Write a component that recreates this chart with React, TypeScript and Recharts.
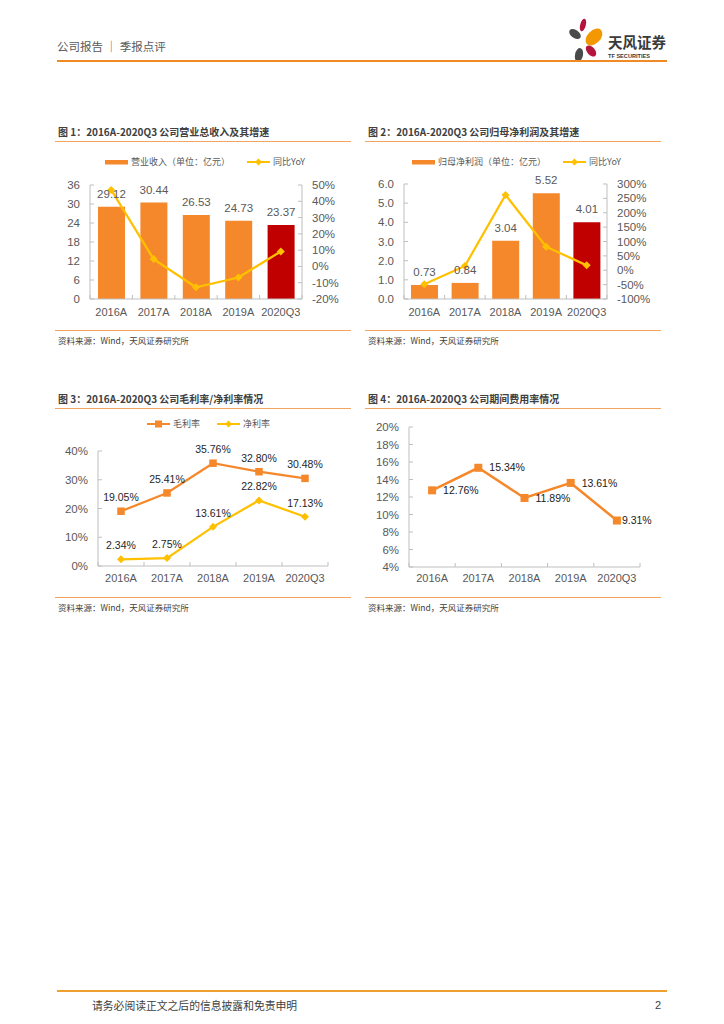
import React from "react";
import { ComposedChart, Bar, Line, XAxis, YAxis, Cell, LabelList, Legend } from "recharts";

const categories = ["2016A", "2017A", "2018A", "2019A", "2020Q3"];
const revenue = [29.12, 30.44, 26.53, 24.73, 23.37];
const revenueYoY = [47, 4.5, -12.8, -6.8, 9.2];
const netProfit = [0.73, 0.84, 3.04, 5.52, 4.01];
const netProfitYoY = [-49, 15, 262, 82, 17];
const grossMargin = [19.05, 25.41, 35.76, 32.8, 30.48];
const netMargin = [2.34, 2.75, 13.61, 22.82, 17.13];
const expenseRatio = [12.76, 15.34, 11.89, 13.61, 9.31];

const revenueTicks = [0, 6, 12, 18, 24, 30, 36];
const revenueYoYTicks = [-20, -10, 0, 10, 20, 30, 40, 50];
const profitTicks = [0, 1, 2, 3, 4, 5, 6];
const profitYoYTicks = [-100, -50, 0, 50, 100, 150, 200, 250, 300];
const marginTicks = [0, 10, 20, 30, 40];
const expenseTicks = [4, 6, 8, 10, 12, 14, 16, 18, 20];

const ORANGE = "#F5882A";
const DARK_RED = "#C00000";
const YELLOW = "#FFC000";
const AXIS = "#BFBFBF";
const GRAY_TEXT = "#595959";
const NUM_FONT = '"Liberation Sans", Arial, sans-serif';
const CJK_FONT = '"Noto Sans CJK SC", "Liberation Sans", sans-serif';

const revenueRows = categories.map((name, i) => ({ name, value: revenue[i], yoy: revenueYoY[i] }));
const profitRows = categories.map((name, i) => ({ name, value: netProfit[i], yoy: netProfitYoY[i] }));
const marginRows = categories.map((name, i) => ({ name, gross: grossMargin[i], net: netMargin[i] }));
const expenseRows = categories.map((name, i) => ({ name, ratio: expenseRatio[i] }));

// category labels with Excel-style tick marks between categories
function CategoryTick(props: any) {
  const { x, y, payload, index, visibleTicksCount, dy } = props;
  const half = payload && payload.offset ? payload.offset : 0;
  return (
    <g>
      <line x1={x - half} x2={x - half} y1={y} y2={y - 4} stroke={AXIS} />
      {index === visibleTicksCount - 1 && <line x1={x + half} x2={x + half} y1={y} y2={y - 4} stroke={AXIS} />}
      <text x={x} y={y + dy} textAnchor="middle" fill={GRAY_TEXT} fontSize={11} fontFamily={NUM_FONT}>
        {payload.value}
      </text>
    </g>
  );
}

// value labels, tick marks pointing into the plot
function ValueTick(props: any) {
  const { x, y, payload, side, fmt } = props;
  const axisX = side === "left" ? x + 10 : x - 10;
  const inner = side === "left" ? axisX + 4 : axisX - 4;
  return (
    <g>
      <line x1={axisX} x2={inner} y1={y} y2={y} stroke={AXIS} />
      <text
        x={x}
        y={y}
        dy="0.35em"
        textAnchor={side === "left" ? "end" : "start"}
        fill={GRAY_TEXT}
        fontSize={11.5}
        fontFamily={NUM_FONT}
      >
        {fmt(payload.value)}
      </text>
    </g>
  );
}

const pct = (v: number) => `${v}%`;
const oneDec = (v: number) => v.toFixed(1);
const plain = (v: number) => `${v}`;
const pct2 = (v: any) => `${Number(v).toFixed(2)}%`;

function diamondDot(color: string, r: number) {
  return (p: any) => {
    if (p.cx == null || p.cy == null) return <g key={p.index} />;
    return (
      <polygon
        key={p.index}
        points={`${p.cx},${p.cy - r} ${p.cx + r},${p.cy} ${p.cx},${p.cy + r} ${p.cx - r},${p.cy}`}
        fill={color}
      />
    );
  };
}

function squareDot(color: string, s: number) {
  return (p: any) => {
    if (p.cx == null || p.cy == null) return <g key={p.index} />;
    return <rect key={p.index} x={p.cx - s / 2} y={p.cy - s / 2} width={s} height={s} fill={color} />;
  };
}

// right-side label; the last one sits closer to its marker, as in the source
function RightLabel(props: any) {
  const { x, y, width, height, value, index } = props;
  const cx = x + (width || 0) / 2;
  const cy = y + (height || 0) / 2;
  const gap = index === expenseRows.length - 1 ? 5 : 11;
  return (
    <text x={cx + gap} y={cy} dy="0.35em" fill="#1a1a1a" fontSize={10.5} fontFamily={NUM_FONT}>
      {pct2(value)}
    </text>
  );
}

type LegendEntry = { kind: "bar" | "line"; color: string; marker?: "diamond" | "square"; label: string };

function LegendRow({ items }: { items: LegendEntry[] }) {
  return (
    <div style={{ display: "flex", alignItems: "center", gap: 17, whiteSpace: "nowrap" }}>
      {items.map((it) => (
        <div key={it.label} style={{ display: "flex", alignItems: "center", gap: 3 }}>
          <svg width={23} height={10}>
            {it.kind === "bar" ? (
              <rect x={0} y={3} width={23} height={4.5} fill={it.color} />
            ) : (
              <g>
                <line x1={0} x2={23} y1={5} y2={5} stroke={it.color} strokeWidth={2} />
                {it.marker === "square" ? (
                  <rect x={8} y={1.5} width={7} height={7} fill={it.color} />
                ) : (
                  <polygon points="11.5,1.5 15,5 11.5,8.5 8,5" fill={it.color} />
                )}
              </g>
            )}
          </svg>
          <span style={{ fontSize: 9, color: GRAY_TEXT, fontFamily: CJK_FONT, lineHeight: "10px" }}>{it.label}</span>
        </div>
      ))}
    </div>
  );
}

function Frame({ left, top, title }: { left: number; top: number; title: string }) {
  return (
    <>
      <div
        style={{
          position: "absolute",
          left: left + 3,
          top: top - 8,
          fontSize: 10,
          fontWeight: 700,
          color: "#404040",
          fontFamily: CJK_FONT,
          lineHeight: "14px",
          whiteSpace: "nowrap",
        }}
      >
        {title}
      </div>
      <div style={{ position: "absolute", left, top: top + 8, width: 296, borderTop: "1px solid #F4A462" }} />
      <div style={{ position: "absolute", left, top: top + 197, width: 296, borderTop: "1px solid #F4A462" }} />
      <div
        style={{
          position: "absolute",
          left: left + 3,
          top: top + 201,
          fontSize: 8.5,
          color: "#404040",
          fontFamily: CJK_FONT,
          lineHeight: "12px",
          whiteSpace: "nowrap",
        }}
      >
        资料来源：Wind，天风证券研究所
      </div>
    </>
  );
}

function RevenueChart() {
  return (
    <div style={{ position: "absolute", left: 55, top: 150 }}>
      <ComposedChart width={300} height={180} data={revenueRows} margin={{ top: 35, right: 13, left: 5, bottom: 6 }}>
        <Legend
          layout="vertical"
          verticalAlign="middle"
          align="center"
          wrapperStyle={{ top: 7, left: 50, width: 250 }}
          content={() => (
            <LegendRow
              items={[
                { kind: "bar", color: ORANGE, label: "营业收入（单位：亿元）" },
                { kind: "line", color: YELLOW, marker: "diamond", label: "同比YoY" },
              ]}
            />
          )}
        />
        <XAxis
          dataKey="name"
          interval={0}
          height={25}
          axisLine={{ stroke: AXIS }}
          tickLine={false}
          tickSize={0}
          tickMargin={0}
          tick={(p: any) => <CategoryTick {...p} dy={17} />}
        />
        <YAxis
          yAxisId="left"
          width={30}
          domain={[0, 36]}
          ticks={revenueTicks}
          interval={0}
          axisLine={{ stroke: AXIS }}
          tickLine={false}
          tickSize={0}
          tickMargin={10}
          tick={(p: any) => <ValueTick {...p} side="left" fmt={plain} />}
        />
        <YAxis
          yAxisId="right"
          orientation="right"
          width={40}
          domain={[-20, 50]}
          ticks={revenueYoYTicks}
          interval={0}
          axisLine={{ stroke: AXIS }}
          tickLine={false}
          tickSize={0}
          tickMargin={10}
          tick={(p: any) => <ValueTick {...p} side="right" fmt={pct} />}
        />
        <Bar yAxisId="left" dataKey="value" barSize={27} isAnimationActive={false}>
          {revenueRows.map((_, i) => (
            <Cell key={`rev-${i}`} fill={i === revenueRows.length - 1 ? DARK_RED : ORANGE} />
          ))}
          <LabelList
            dataKey="value"
            position="top"
            offset={9}
            fill={GRAY_TEXT}
            fontSize={11.5}
            fontFamily={NUM_FONT}
            formatter={(v: any) => Number(v).toFixed(2)}
          />
        </Bar>
        <Line
          yAxisId="right"
          dataKey="yoy"
          type="linear"
          stroke={YELLOW}
          strokeWidth={2.25}
          dot={diamondDot(YELLOW, 4)}
          activeDot={false}
          isAnimationActive={false}
        />
      </ComposedChart>
    </div>
  );
}

function ProfitChart() {
  return (
    <div style={{ position: "absolute", left: 365, top: 150 }}>
      <ComposedChart width={300} height={180} data={profitRows} margin={{ top: 34, right: 13, left: 5, bottom: 6 }}>
        <Legend
          layout="vertical"
          verticalAlign="middle"
          align="center"
          wrapperStyle={{ top: 7, left: 47, width: 253 }}
          content={() => (
            <LegendRow
              items={[
                { kind: "bar", color: ORANGE, label: "归母净利润（单位：亿元）" },
                { kind: "line", color: YELLOW, marker: "diamond", label: "同比YoY" },
              ]}
            />
          )}
        />
        <XAxis
          dataKey="name"
          interval={0}
          height={25}
          axisLine={{ stroke: AXIS }}
          tickLine={false}
          tickSize={0}
          tickMargin={0}
          tick={(p: any) => <CategoryTick {...p} dy={17} />}
        />
        <YAxis
          yAxisId="left"
          width={34}
          domain={[0, 6]}
          ticks={profitTicks}
          interval={0}
          axisLine={{ stroke: AXIS }}
          tickLine={false}
          tickSize={0}
          tickMargin={10}
          tick={(p: any) => <ValueTick {...p} side="left" fmt={oneDec} />}
        />
        <YAxis
          yAxisId="right"
          orientation="right"
          width={45}
          domain={[-100, 300]}
          ticks={profitYoYTicks}
          interval={0}
          axisLine={{ stroke: AXIS }}
          tickLine={false}
          tickSize={0}
          tickMargin={10}
          tick={(p: any) => <ValueTick {...p} side="right" fmt={pct} />}
        />
        <Bar yAxisId="left" dataKey="value" barSize={27} isAnimationActive={false}>
          {profitRows.map((_, i) => (
            <Cell key={`np-${i}`} fill={i === profitRows.length - 1 ? DARK_RED : ORANGE} />
          ))}
          <LabelList
            dataKey="value"
            position="top"
            offset={9}
            fill={GRAY_TEXT}
            fontSize={11.5}
            fontFamily={NUM_FONT}
            formatter={(v: any) => Number(v).toFixed(2)}
          />
        </Bar>
        <Line
          yAxisId="right"
          dataKey="yoy"
          type="linear"
          stroke={YELLOW}
          strokeWidth={2.25}
          dot={diamondDot(YELLOW, 4)}
          activeDot={false}
          isAnimationActive={false}
        />
      </ComposedChart>
    </div>
  );
}

function MarginChart() {
  return (
    <div style={{ position: "absolute", left: 55, top: 415 }}>
      <ComposedChart width={300} height={180} data={marginRows} margin={{ top: 36, right: 27, left: 5, bottom: 4 }}>
        <Legend
          layout="vertical"
          verticalAlign="middle"
          align="center"
          wrapperStyle={{ top: 4, left: 92, width: 200 }}
          content={() => (
            <LegendRow
              items={[
                { kind: "line", color: ORANGE, marker: "square", label: "毛利率" },
                { kind: "line", color: YELLOW, marker: "diamond", label: "净利率" },
              ]}
            />
          )}
        />
        <XAxis
          dataKey="name"
          scale="band"
          interval={0}
          height={25}
          axisLine={{ stroke: AXIS }}
          tickLine={false}
          tickSize={0}
          tickMargin={0}
          tick={(p: any) => <CategoryTick {...p} dy={16} />}
        />
        <YAxis
          width={38}
          domain={[0, 40]}
          ticks={marginTicks}
          interval={0}
          axisLine={{ stroke: AXIS }}
          tickLine={false}
          tickSize={0}
          tickMargin={10}
          tick={(p: any) => <ValueTick {...p} side="left" fmt={pct} />}
        />
        <Line
          dataKey="gross"
          type="linear"
          stroke={ORANGE}
          strokeWidth={2.25}
          dot={squareDot(ORANGE, 7.5)}
          activeDot={false}
          isAnimationActive={false}
        >
          <LabelList dataKey="gross" position="top" offset={10} fill="#262626" fontSize={10.5} fontFamily={NUM_FONT} formatter={pct2} />
        </Line>
        <Line
          dataKey="net"
          type="linear"
          stroke={YELLOW}
          strokeWidth={2.25}
          dot={diamondDot(YELLOW, 4)}
          activeDot={false}
          isAnimationActive={false}
        >
          <LabelList dataKey="net" position="top" offset={10} fill="#262626" fontSize={10.5} fontFamily={NUM_FONT} formatter={pct2} />
        </Line>
      </ComposedChart>
    </div>
  );
}

function ExpenseChart() {
  return (
    <div style={{ position: "absolute", left: 365, top: 415 }}>
      <ComposedChart width={300} height={180} data={expenseRows} margin={{ top: 12, right: 25, left: 5, bottom: 3 }}>
        <XAxis
          dataKey="name"
          scale="band"
          interval={0}
          height={25}
          axisLine={{ stroke: AXIS }}
          tickLine={false}
          tickSize={0}
          tickMargin={0}
          tick={(p: any) => <CategoryTick {...p} dy={15} />}
        />
        <YAxis
          width={39}
          domain={[4, 20]}
          ticks={expenseTicks}
          interval={0}
          axisLine={{ stroke: AXIS }}
          tickLine={false}
          tickSize={0}
          tickMargin={10}
          tick={(p: any) => <ValueTick {...p} side="left" fmt={pct} />}
        />
        <Line
          dataKey="ratio"
          type="linear"
          stroke={ORANGE}
          strokeWidth={2.5}
          dot={squareDot(ORANGE, 8)}
          activeDot={false}
          isAnimationActive={false}
        >
          <LabelList dataKey="ratio" content={(p: any) => <RightLabel {...p} />} />
        </Line>
      </ComposedChart>
    </div>
  );
}

function Logo() {
  return (
    <div style={{ position: "absolute", left: 562, top: 16 }}>
      <svg width={120} height={50}>
        <ellipse cx={13} cy={18} rx={6.5} ry={4} fill="#4A4A4A" transform="rotate(35 13 18)" />
        <ellipse cx={21} cy={9} rx={2.8} ry={6.5} fill="#B3153D" transform="rotate(15 21 9)" />
        <ellipse cx={32} cy={21} rx={6.5} ry={10} fill="#F39800" transform="rotate(45 32 21)" />
        <ellipse cx={29} cy={35} rx={4} ry={6.5} fill="#B3153D" transform="rotate(-40 29 35)" />
        <ellipse cx={17} cy={39} rx={4} ry={7} fill="#4A4A4A" transform="rotate(12 17 39)" />
        <text x={46} y={32} fontSize={14.5} fontWeight={700} fill="#3A3A3A" fontFamily={CJK_FONT}>
          天风证券
        </text>
        <text x={46} y={41.5} fontSize={5.6} fontWeight={700} fill="#3A3A3A" fontFamily={NUM_FONT}>
          TF SECURITIES
        </text>
      </svg>
    </div>
  );
}

export default function App() {
  return (
    <div
      style={{
        position: "absolute",
        left: 0,
        top: 0,
        width: 724,
        height: 1024,
        background: "#fff",
        overflow: "hidden",
      }}
    >
      <div
        style={{
          position: "absolute",
          left: 57,
          top: 38,
          fontSize: 11.5,
          color: "#595959",
          fontFamily: CJK_FONT,
          lineHeight: "16px",
          whiteSpace: "nowrap",
        }}
      >
        公司报告 ｜ 季报点评
      </div>
      <Logo />
      <div style={{ position: "absolute", left: 57, top: 60, width: 610, borderTop: "2px solid #F08A24" }} />

      <Frame left={55} top={133} title="图 1：2016A-2020Q3 公司营业总收入及其增速" />
      <Frame left={365} top={133} title="图 2：2016A-2020Q3 公司归母净利润及其增速" />
      <Frame left={55} top={400} title="图 3：2016A-2020Q3 公司毛利率/净利率情况" />
      <Frame left={365} top={400} title="图 4：2016A-2020Q3 公司期间费用率情况" />

      <RevenueChart />
      <ProfitChart />
      <MarginChart />
      <ExpenseChart />

      <div style={{ position: "absolute", left: 57, top: 990, width: 610, borderTop: "2px solid #F0A030" }} />
      <div
        style={{
          position: "absolute",
          left: 92,
          top: 998,
          fontSize: 10.8,
          color: "#404040",
          fontFamily: CJK_FONT,
          lineHeight: "14px",
          whiteSpace: "nowrap",
        }}
      >
        请务必阅读正文之后的信息披露和免责申明
      </div>
      <div
        style={{
          position: "absolute",
          left: 655,
          top: 998,
          fontSize: 11,
          color: "#404040",
          fontFamily: NUM_FONT,
          lineHeight: "14px",
        }}
      >
        2
      </div>
    </div>
  );
}
